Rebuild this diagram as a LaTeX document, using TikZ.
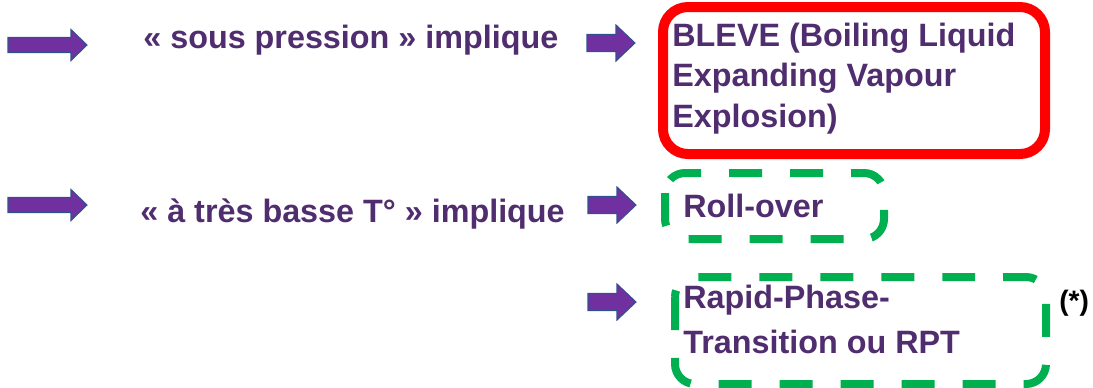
\documentclass[tikz,border=0pt]{standalone}
\usepackage{fontspec}
\setmainfont{Liberation Sans}

\definecolor{arrowviolet}{RGB}{112,48,160}
\definecolor{arrowedge}{RGB}{47,82,143}
\definecolor{textplum}{RGB}{80,45,110}
\definecolor{boxred}{RGB}{255,0,0}
\definecolor{boxgreen}{RGB}{0,176,80}

\tikzset{
  txt/.style={text=textplum, font=\bfseries\fontsize{18.4}{22.8}\selectfont,
    inner sep=0pt, anchor=base west, align=left},
  redbox/.style={draw=boxred, line width=0.2cm, rounded corners=0.5cm},
  greenbox/.style={draw=boxgreen, line width=0.16cm, rounded corners=0.4cm,
    dash pattern=on 0.66cm off 0.56cm},
  % length, head length, head half width, shaft half width
  pics/fatarrow/.style n args={4}{code={
    \filldraw[fill=arrowviolet, draw=arrowedge, line width=0.6pt]
      (0,-#4) -- (#1-#2,-#4) -- (#1-#2,-#3) -- (#1,0)
      -- (#1-#2,#3) -- (#1-#2,#4) -- (0,#4) -- cycle;
  }}
}

\begin{document}
\begin{tikzpicture}[x=0.02cm,y=-0.02cm]
    \useasboundingbox (0,0) rectangle (1093,387);

    % left column
    \pic (arrA) at (8,45) {fatarrow={79}{16}{15.5}{7.5}};
    \pic (arrB) at (8,205) {fatarrow={79}{16}{15.5}{7.5}};
    \node[txt] (sous) at (143,48) {« sous pression » implique};
    \node[txt] (basse) at (140,222) {« à très basse T° » implique};

    % small arrows
    \pic (arrC) at (587,43) {fatarrow={48}{19}{18}{8.5}};
    \pic (arrD) at (588,205) {fatarrow={48}{19}{18}{8.5}};
    \pic (arrE) at (588,302) {fatarrow={48}{19}{18}{8.5}};

    % boxes
    \draw[redbox] (663,7) rectangle (1045,154);
    \draw[greenbox] (665,173) rectangle (884,239);
    \draw[greenbox] (675,277) rectangle (1046,384);

    % base of a multi-line node = last line
    \node[txt] (bleve) at (672,127) {BLEVE (Boiling Liquid\\Expanding Vapour\\Explosion)};
    \node[txt] (roll) at (683,217) {Roll-over};
    \node[txt] (rpt) at (683,353) {Rapid-Phase-\\[2.8pt]Transition ou RPT};
    \node[inner sep=0pt, anchor=base west, font=\bfseries\fontsize{16}{18}\selectfont] (star) at (1059,310) {(*)};
\end{tikzpicture}
\end{document}
